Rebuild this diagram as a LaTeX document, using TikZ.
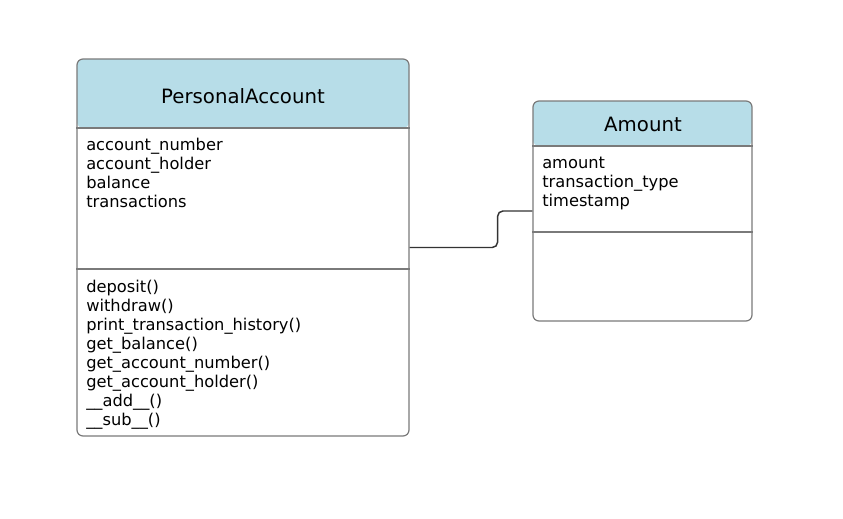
\documentclass[tikz,border=0pt]{standalone}
\usepackage{fontspec}
\setmainfont{DejaVu Sans}
\usepackage{tikz}
\usetikzlibrary{positioning, calc}
\definecolor{HeadBlue}{RGB}{183, 221, 232}
\definecolor{BoxGray}{RGB}{122, 122, 122}
\definecolor{LinkGray}{RGB}{51, 51, 51}

\begin{document}
\begin{tikzpicture}[x=0.75pt,y=-0.75pt,
	classbox/.style={draw=BoxGray,line width=0.9pt,fill=white,rounded corners=4.5pt,inner sep=0pt,
		path picture={\fill[HeadBlue] (path picture bounding box.north west) rectangle ([yshift=-#1]path picture bounding box.north east);}},
	divider/.style={draw=BoxGray,line width=0.9pt},
	title/.style={anchor=base,inner sep=0pt,font=\fontsize{14.8}{18}\selectfont},
	member/.style={anchor=base west,inner sep=0pt,font=\fontsize{12.2}{15}\selectfont},
	link/.style={draw=LinkGray,line width=1.1pt,rounded corners=4pt}]
\useasboundingbox (0,0) rectangle (843,518);
\node[classbox=51.75pt,minimum width=249pt,minimum height=282.75pt] (pa) at (243,247.5){};
\node[classbox=33.75pt,minimum width=164.25pt,minimum height=165pt] (amt) at (642.5,211){};
\draw[divider] (pa.west |- 0,128) -- (pa.east |- 0,128);
\draw[divider] (pa.west |- 0,269) -- (pa.east |- 0,269);
\draw[divider] (amt.west |- 0,146) -- (amt.east |- 0,146);
\draw[divider] (amt.west |- 0,232) -- (amt.east |- 0,232);
\node[title] (paname) at (243,103){PersonalAccount};
\node[title] (amtname) at (643,131){Amount};
\foreach \t [count=\i] in {account\_number,account\_holder,balance,transactions}
	\node[member] (paattr\i) at (86,{150+19*(\i-1)}){\t};
\foreach \t [count=\i] in {deposit(),withdraw(),print\_transaction\_history(),get\_balance(),
	get\_account\_number(),get\_account\_holder(),\_\_add\_\_(),\_\_sub\_\_()}
	\node[member] (pameth\i) at (86,{292+19*(\i-1)}){\t};
\foreach \t [count=\i] in {amount,transaction\_type,timestamp}
	\node[member] (amtattr\i) at (542,{168+19*(\i-1)}){\t};
\draw[link] (pa.east) -- ++(88,0) |- (amt.west);
\end{tikzpicture}
\end{document}
